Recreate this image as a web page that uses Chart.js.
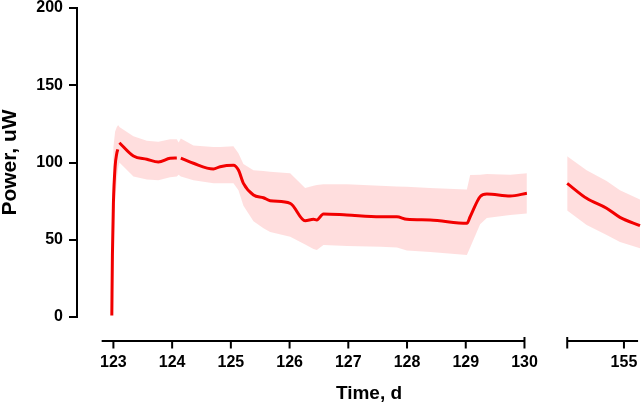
<!DOCTYPE html>
<html>
<head>
<meta charset="utf-8">
<script src="https://cdn.jsdelivr.net/npm/chart.js"></script>
<style>
  html, body { margin: 0; padding: 0; background: #fff; }
  #wrap { position: relative; width: 643px; height: 402px; overflow: hidden; }
  canvas { position: absolute; top: 0; }
  #chartA { left: 0; }
  #chartB { left: 540px; }
  #xTitle {
    position: absolute; left: 369px; top: 383px; transform: translateX(-50%);
    font: bold 19px "Liberation Sans", Arial, sans-serif; line-height: 19px; color: #000;
    white-space: nowrap;
  }
</style>
</head>
<body>
<div id="wrap">
  <canvas id="chartA" width="550" height="402"></canvas>
  <canvas id="chartB" width="103" height="402"></canvas>
  <div id="xTitle">Time, d</div>
</div>
<script>
// left part of the broken time axis (days 123-130)
const leftDays  = [122.973, 122.983, 123.0, 123.029, 123.058, 123.075, 123.09, 123.102, 123.341, 123.569, 123.766, 123.966, 124.08, 124.11, 124.148, 124.363, 124.703, 124.817, 125.044, 125.129, 125.214, 125.385, 125.555, 125.669, 126.01, 126.265, 126.407, 126.464, 126.577, 126.975, 127.543, 127.827, 127.997, 128.394, 129.019, 129.075, 129.245, 129.359, 129.757, 130.041];
const leftPower = [1, 40, 73.6, 97.3, 106, 108.5, null, 112.8, 104.2, 102.1, 100.3, 102.7, 102.9, null, 102.9, 99.5, 95.8, 97.3, 98.2, 95.1, 86.5, 79.0, 77.2, 75.3, 73.6, 62.3, 63.2, 62.8, 66.7, 66.0, 64.9, 64.9, 63.2, 62.8, 60.6, 64.9, 77.9, 79.6, 78.3, 80.1];
const leftUpper = [5, 60, 110, 120, 123, 124, 124, 123, 117, 114, 113.5, 115, 115, 113, 115.5, 111, 110, 110, 110.5, 106, 99, 95, 94.5, 94, 93, 83.5, 85, 85.4, 86, 86, 85, 84.5, 84.3, 83.5, 82.6, 91.9, 92, 92.5, 92, 93];
const leftLower = [0, 20, 40, 75, 88, 95, 98, 100, 91, 89, 88.5, 90.5, 91, 92, 91, 88.5, 86.5, 86.5, 86.5, 82, 72, 62, 57.5, 55, 52, 47, 44, 43.4, 46.6, 46, 45.5, 45, 43, 42, 40.1, 45, 60, 64, 66, 67];

// right part of the broken time axis (around day 155)
const rightDays  = [154.034, 154.365, 154.705, 154.932, 155.273];
const rightPower = [86.5, 76.8, 70.4, 64.5, 59.1];
const rightUpper = [104, 95, 88, 82, 76];
const rightLower = [69, 59.5, 53, 48.5, 44.5];

const leftTicks = [123, 124, 125, 126, 127, 128, 129, 130];
const rightTicks = [155];
const yTicks = [0, 50, 100, 150, 200];

const FONT = '"Liberation Sans", Arial, sans-serif';
const lineColor = '#f00000';
const bandColor = 'rgba(255, 0, 0, 0.13)';

const pts = (xs, ys) => xs.map((x, i) => ({ x: x, y: ys[i] }));

// draws the offset x axis line, its ticks and the end bars of the break
const brokenAxis = {
  id: 'brokenAxis',
  afterDraw(chart, args, opts) {
    const sx = chart.scales.x;
    const ctx = chart.ctx;
    const y = chart.chartArea.bottom + opts.offset;
    ctx.save();
    ctx.strokeStyle = '#000';
    ctx.lineWidth = 2;
    ctx.beginPath();
    ctx.moveTo(sx.getPixelForValue(opts.from), y);
    ctx.lineTo(sx.getPixelForValue(opts.to), y);
    sx.ticks.forEach(t => {
      const px = sx.getPixelForValue(t.value);
      ctx.moveTo(px, y);
      ctx.lineTo(px, y + 7.5);
    });
    opts.bars.forEach(v => {
      const px = sx.getPixelForValue(v);
      ctx.moveTo(px, y - 4);
      ctx.lineTo(px, y + 7.5);
    });
    ctx.stroke();
    ctx.restore();
  }
};

function datasets(days, power, upper, lower) {
  return [
    { data: pts(days, lower), borderWidth: 0, pointRadius: 0, fill: false },
    { data: pts(days, upper), borderWidth: 0, pointRadius: 0, fill: '-1', backgroundColor: bandColor },
    { data: pts(days, power), borderColor: lineColor, borderWidth: 3, pointRadius: 0,
      fill: false, spanGaps: false, cubicInterpolationMode: 'monotone' }
  ];
}

function xScale(min, max, ticks) {
  return {
    type: 'linear', min: min, max: max,
    afterBuildTicks: s => { s.ticks = ticks.map(v => ({ value: v })); },
    afterFit: s => { s.height = 85; },
    // invisible tick marks only push the labels down below the offset axis line
    grid: { display: true, drawOnChartArea: false, drawTicks: true, tickLength: 38, tickColor: 'rgba(0,0,0,0)' },
    border: { display: false },
    ticks: { color: '#000', padding: 0, maxRotation: 0, font: { family: FONT, size: 16, weight: 'bold', lineHeight: 1 } }
  };
}

const common = {
  responsive: false,
  animation: false,
  devicePixelRatio: 1,
  plugins: { legend: { display: false }, tooltip: { enabled: false } }
};

new Chart(document.getElementById('chartA'), {
  type: 'line',
  data: { datasets: datasets(leftDays, leftPower, leftUpper, leftLower) },
  options: {
    ...common,
    layout: { padding: { top: 8, right: 22, left: 0, bottom: 0 } },
    plugins: { ...common.plugins, brokenAxis: { offset: 24, from: 122.8, to: 130, bars: [130] } },
    scales: {
      x: xScale(122.38, 130.06, leftTicks),
      y: {
        min: 0, max: 200,
        afterBuildTicks: s => { s.ticks = yTicks.map(v => ({ value: v })); },
        afterFit: s => { s.width = 77; },
        grid: { display: true, drawOnChartArea: false, drawTicks: true, tickLength: 8, color: '#000', lineWidth: 2 },
        border: { display: true, color: '#000', width: 2 },
        ticks: { color: '#000', padding: 6, font: { family: FONT, size: 16, weight: 'bold', lineHeight: 0.1 } },
        title: { display: true, text: 'Power, uW', color: '#000', padding: { top: 0, bottom: 0 },
                 font: { family: FONT, size: 21, weight: 'bold', lineHeight: 1 } }
      }
    }
  },
  plugins: [brokenAxis]
});

new Chart(document.getElementById('chartB'), {
  type: 'line',
  data: { datasets: datasets(rightDays, rightPower, rightUpper, rightLower) },
  options: {
    ...common,
    layout: { padding: { top: 8, right: 0, left: 24, bottom: 0 } },
    plugins: { ...common.plugins, brokenAxis: { offset: 24, from: 154.035, to: 155.24, bars: [154.035] } },
    scales: {
      x: xScale(153.98, 155.324, rightTicks),
      y: { display: false, min: 0, max: 200 }
    }
  },
  plugins: [brokenAxis]
});
</script>
</body>
</html>
